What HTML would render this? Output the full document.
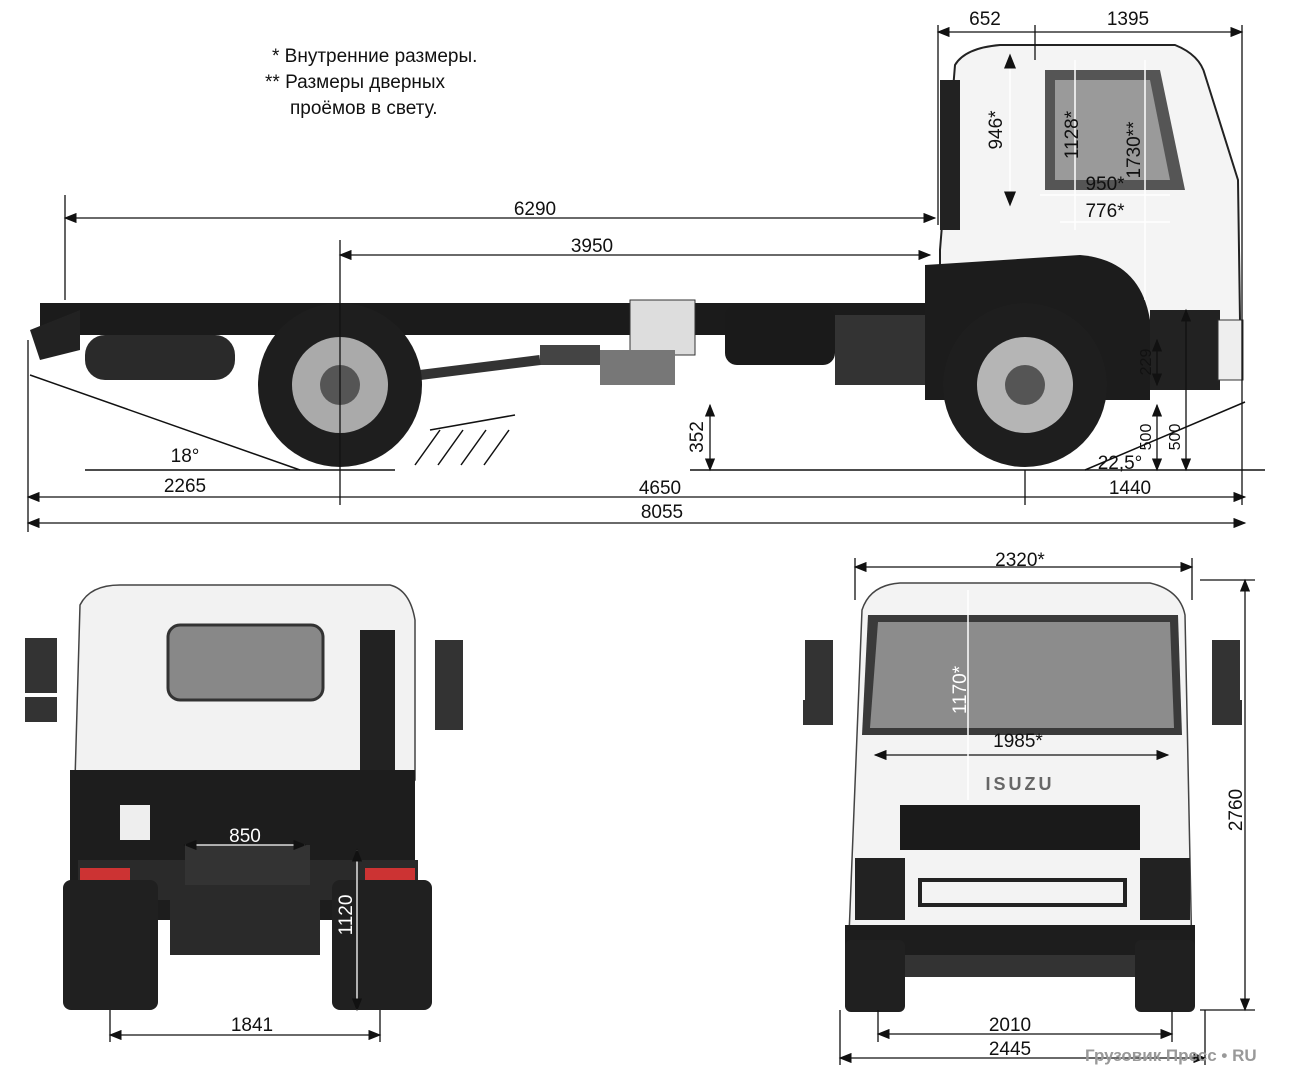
<!DOCTYPE html>
<html><head><meta charset="utf-8"><style>
html,body{margin:0;padding:0;background:#fff}
svg{display:block}
text{font-family:"Liberation Sans",Arial,sans-serif;fill:#111}
</style></head><body>
<svg width="1300" height="1081" viewBox="0 0 1300 1081" xmlns="http://www.w3.org/2000/svg">
<defs>
<marker id="a" markerWidth="10" markerHeight="8" refX="9" refY="4" orient="auto-start-reverse"><path d="M0,0 L10,4 L0,8 z" fill="#111"/></marker>
</defs>
<rect width="1300" height="1081" fill="#fff"/>

<!-- notes -->
<text x="272" y="62" font-size="19">* Внутренние размеры.</text>
<text x="265" y="88" font-size="19">** Размеры дверных</text>
<text x="290" y="114" font-size="19">проёмов в свету.</text>

<!-- ===== SIDE VIEW ===== -->
<!-- chassis -->
<rect x="40" y="303" width="890" height="32" fill="#1b1b1b"/>
<polygon points="30,330 80,310 80,350 40,360" fill="#222"/>
<rect x="85" y="335" width="150" height="45" rx="20" fill="#2a2a2a"/>
<rect x="630" y="300" width="65" height="55" fill="#ddd" stroke="#333"/>
<rect x="725" y="305" width="110" height="60" rx="12" fill="#1a1a1a"/>
<rect x="600" y="350" width="75" height="35" fill="#777"/>
<rect x="540" y="345" width="60" height="20" fill="#444"/>
<line x1="420" y1="375" x2="540" y2="360" stroke="#333" stroke-width="10"/>
<rect x="835" y="315" width="90" height="70" fill="#333"/>
<!-- cab -->
<path d="M940,250 L955,65 Q965,48 1000,45 L1175,45 Q1200,55 1205,75 L1238,180 L1240,320 L1215,335 L940,335 Z" fill="#f4f4f4" stroke="#222" stroke-width="2"/>
<rect x="940" y="80" width="20" height="150" fill="#222"/>
<path d="M1045,70 L1160,70 L1185,190 L1045,190 Z" fill="#555"/>
<path d="M1055,80 L1150,80 L1170,180 L1055,180 Z" fill="#9a9a9a"/>
<path d="M925,400 L925,265 L1080,255 Q1140,260 1150,320 L1150,400 Z" fill="#1c1c1c"/>
<rect x="1150" y="310" width="70" height="80" fill="#222"/>
<rect x="1218" y="320" width="25" height="60" fill="#eee" stroke="#333"/>
<!-- wheels -->
<circle cx="340" cy="385" r="82" fill="#1e1e1e"/>
<circle cx="340" cy="385" r="48" fill="#aaa"/>
<circle cx="340" cy="385" r="20" fill="#555"/>
<circle cx="1025" cy="385" r="82" fill="#1e1e1e"/>
<circle cx="1025" cy="385" r="48" fill="#b5b5b5"/>
<circle cx="1025" cy="385" r="20" fill="#555"/>
<!-- ground / hatch -->
<line x1="85" y1="470" x2="395" y2="470" stroke="#111" stroke-width="1.5"/>
<line x1="690" y1="470" x2="1265" y2="470" stroke="#111" stroke-width="1.5"/>
<line x1="30" y1="375" x2="300" y2="470" stroke="#111" stroke-width="1.5"/>
<line x1="1085" y1="470" x2="1245" y2="402" stroke="#111" stroke-width="1.5"/>
<path d="M415,465 L440,430 M438,465 L463,430 M461,465 L486,430 M484,465 L509,430 M430,430 L515,415" stroke="#111" stroke-width="1.5" fill="none"/>
<!-- dim lines side -->
<g stroke="#111" stroke-width="1.3" fill="none">
<line x1="65" y1="195" x2="65" y2="300"/>
<line x1="65" y1="218" x2="935" y2="218" marker-start="url(#a)" marker-end="url(#a)"/>
<line x1="340" y1="240" x2="340" y2="505"/>
<line x1="340" y1="255" x2="930" y2="255" marker-start="url(#a)" marker-end="url(#a)"/>
<line x1="938" y1="25" x2="938" y2="225"/>
<line x1="1035" y1="25" x2="1035" y2="60"/>
<line x1="1242" y1="25" x2="1242" y2="505"/>
<line x1="938" y1="32" x2="1242" y2="32" marker-start="url(#a)" marker-end="url(#a)"/>
<line x1="28" y1="340" x2="28" y2="532"/>
<line x1="1025" y1="470" x2="1025" y2="505"/>
<line x1="28" y1="497" x2="1245" y2="497" marker-start="url(#a)" marker-end="url(#a)"/>
<line x1="28" y1="523" x2="1245" y2="523" marker-start="url(#a)" marker-end="url(#a)"/>
<line x1="710" y1="405" x2="710" y2="470" marker-start="url(#a)" marker-end="url(#a)"/>
<line x1="1157" y1="405" x2="1157" y2="470" marker-start="url(#a)" marker-end="url(#a)"/>
<line x1="1186" y1="310" x2="1186" y2="470" marker-start="url(#a)" marker-end="url(#a)"/>
<line x1="1157" y1="340" x2="1157" y2="385" marker-start="url(#a)" marker-end="url(#a)"/>
</g>
<g stroke="#fff" stroke-width="1.5" fill="none">
<line x1="1010" y1="55" x2="1010" y2="205" marker-start="url(#a)" marker-end="url(#a)"/>
<line x1="1075" y1="60" x2="1075" y2="230" />
<line x1="1145" y1="60" x2="1145" y2="300"/>
<line x1="1040" y1="195" x2="1170" y2="195"/>
<line x1="1060" y1="222" x2="1170" y2="222"/>
</g>
<g font-size="19" text-anchor="middle">
<text x="535" y="215">6290</text>
<text x="592" y="252">3950</text>
<text x="985" y="25">652</text>
<text x="1128" y="25">1395</text>
<text x="185" y="492">2265</text>
<text x="660" y="494">4650</text>
<text x="1130" y="494">1440</text>
<text x="662" y="518">8055</text>
<text x="185" y="462">18°</text>
<text x="1120" y="469">22,5°</text>
<text x="1105" y="190">950*</text>
<text x="1105" y="217">776*</text>
<text transform="translate(703,437) rotate(-90)">352</text>
<text transform="translate(1151,437) rotate(-90)" font-size="16">500</text>
<text transform="translate(1180,437) rotate(-90)" font-size="16">500</text>
<text transform="translate(1151,362) rotate(-90)" font-size="16">229</text>
<text transform="translate(1002,130) rotate(-90)">946*</text>
<text transform="translate(1078,135) rotate(-90)">1128*</text>
<text transform="translate(1140,150) rotate(-90)">1730**</text>
</g>

<!-- ===== REAR VIEW ===== -->
<path d="M80,605 Q90,585 120,585 L390,585 Q410,590 415,620 L415,780 L75,780 Z" fill="#f2f2f2" stroke="#444" stroke-width="1.5"/>
<rect x="168" y="625" width="155" height="75" rx="12" fill="#888" stroke="#333" stroke-width="3"/>
<rect x="360" y="630" width="35" height="140" fill="#222"/>
<rect x="25" y="638" width="32" height="55" fill="#333"/>
<rect x="25" y="697" width="32" height="25" fill="#333"/>
<rect x="435" y="640" width="28" height="60" fill="#333"/>
<rect x="435" y="700" width="28" height="30" fill="#333"/>
<rect x="70" y="770" width="345" height="150" fill="#1d1d1d"/>
<rect x="78" y="860" width="340" height="40" fill="#2a2a2a"/>
<rect x="80" y="868" width="50" height="22" fill="#c33"/>
<rect x="365" y="868" width="50" height="22" fill="#c33"/>
<rect x="185" y="845" width="125" height="40" fill="#333"/>
<rect x="63" y="880" width="95" height="130" rx="8" fill="#202020"/>
<rect x="332" y="880" width="100" height="130" rx="8" fill="#202020"/>
<rect x="170" y="890" width="150" height="65" fill="#2a2a2a"/>
<rect x="120" y="805" width="30" height="35" fill="#eee"/>
<g stroke="#111" stroke-width="1.3" fill="none">
<line x1="185" y1="845" x2="305" y2="845" stroke="#fff" marker-start="url(#a)" marker-end="url(#a)"/>
<line x1="357" y1="850" x2="357" y2="1010" stroke="#fff" marker-start="url(#a)" marker-end="url(#a)"/>
<line x1="110" y1="1010" x2="110" y2="1042"/>
<line x1="380" y1="1010" x2="380" y2="1042"/>
<line x1="110" y1="1035" x2="380" y2="1035" marker-start="url(#a)" marker-end="url(#a)"/>
</g>
<g font-size="19" text-anchor="middle">
<text x="245" y="842" fill="#fff" style="fill:#fff">850</text>
<text transform="translate(352,915) rotate(-90)" style="fill:#fff">1120</text>
<text x="252" y="1031">1841</text>
</g>

<!-- ===== FRONT VIEW ===== -->
<path d="M862,610 Q870,585 900,583 L1150,583 Q1180,590 1185,615 L1192,960 L848,960 Z" fill="#f3f3f3" stroke="#444" stroke-width="1.5"/>
<path d="M868,615 L1178,615 L1182,735 L862,735 Z" fill="#3a3a3a"/>
<path d="M878,622 L1170,622 L1174,728 L870,728 Z" fill="#8c8c8c"/>
<rect x="900" y="805" width="240" height="45" fill="#1a1a1a"/>
<rect x="855" y="858" width="50" height="62" fill="#222"/>
<rect x="1140" y="858" width="50" height="62" fill="#222"/>
<rect x="920" y="880" width="205" height="25" fill="none" stroke="#222" stroke-width="4"/>
<rect x="845" y="925" width="350" height="40" fill="#1d1d1d"/>
<rect x="845" y="940" width="60" height="72" rx="6" fill="#202020"/>
<rect x="1135" y="940" width="60" height="72" rx="6" fill="#202020"/>
<rect x="905" y="955" width="230" height="22" fill="#333"/>
<rect x="805" y="640" width="28" height="60" fill="#333"/>
<rect x="803" y="700" width="30" height="25" fill="#333"/>
<rect x="1212" y="640" width="28" height="60" fill="#333"/>
<rect x="1212" y="700" width="30" height="25" fill="#333"/>
<text x="1020" y="790" font-size="18" text-anchor="middle" font-weight="bold" style="fill:#666;letter-spacing:3px">ISUZU</text>
<g stroke="#111" stroke-width="1.3" fill="none">
<line x1="855" y1="558" x2="855" y2="600"/>
<line x1="1192" y1="558" x2="1192" y2="600"/>
<line x1="855" y1="567" x2="1192" y2="567" marker-start="url(#a)" marker-end="url(#a)"/>
<line x1="1200" y1="580" x2="1255" y2="580"/>
<line x1="1200" y1="1010" x2="1255" y2="1010"/>
<line x1="1245" y1="580" x2="1245" y2="1010" marker-start="url(#a)" marker-end="url(#a)"/>
<line x1="878" y1="1010" x2="878" y2="1042"/>
<line x1="1172" y1="1010" x2="1172" y2="1042"/>
<line x1="878" y1="1034" x2="1172" y2="1034" marker-start="url(#a)" marker-end="url(#a)"/>
<line x1="840" y1="1010" x2="840" y2="1065"/>
<line x1="1205" y1="1010" x2="1205" y2="1065"/>
<line x1="840" y1="1058" x2="1205" y2="1058" marker-start="url(#a)" marker-end="url(#a)"/>
<line x1="875" y1="755" x2="1168" y2="755" marker-start="url(#a)" marker-end="url(#a)"/>
</g>
<line x1="968" y1="590" x2="968" y2="800" stroke="#fff" stroke-width="1.5"/>
<g font-size="19" text-anchor="middle">
<text x="1020" y="566">2320*</text>
<text transform="translate(1242,810) rotate(-90)">2760</text>
<text x="1010" y="1031">2010</text>
<text x="1010" y="1055">2445</text>
<text x="1018" y="747">1985*</text>
<text transform="translate(966,690) rotate(-90)" style="fill:#fff">1170*</text>
</g>
<text x="1085" y="1061" font-size="17" style="fill:#999" font-weight="bold">Грузовик Пресс • RU</text>
</svg>
</body></html>
